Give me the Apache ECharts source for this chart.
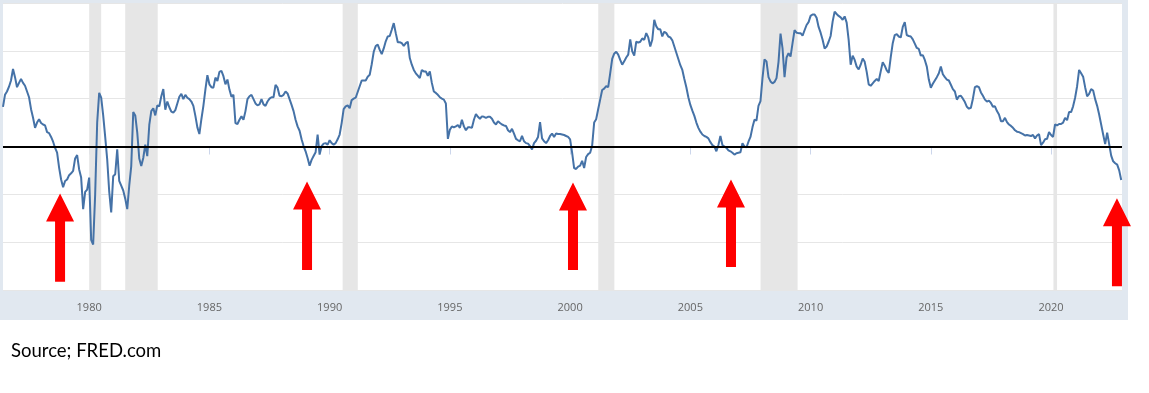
<!DOCTYPE html>
<html><head><meta charset="utf-8">
<script src="https://cdn.jsdelivr.net/npm/echarts@6/dist/echarts.min.js"></script>
<style>html,body{margin:0;padding:0;background:#fff;}#c{width:1149px;height:393px;}</style>
</head><body><div id="c"></div>
<script>
// Monthly spread (10Y - 2Y, %), starting June 1976
const startYear = 1976, startMonth = 6;
const spread1970s = [
  0.83, 1.08, 1.15, 1.25, 1.38, 1.62, 1.45,
  1.24, 1.33, 1.41, 1.33, 1.27, 1.15, 1.03, 0.78, 0.6, 0.39, 0.5, 0.57,
  0.49, 0.46, 0.44, 0.3, 0.28, 0.2, 0.1, -0.03, -0.13, -0.44, -0.69, -0.85,
  -0.72, -0.69, -0.6, -0.56, -0.51, -0.25, -0.18, -0.48, -0.65, -1.31, -0.95, -0.9
];
const spread1980s = [
  -0.65, -1.95, -2.05, -1.0, 0.5, 1.12, 1.02, 0.65, 0.2, -0.27, -0.94, -1.38,
  -0.62, -0.58, -0.06, -0.72, -0.82, -0.92, -1.09, -1.31, -0.82, -0.41, 0.72, 0.65,
  0.29, -0.25, -0.41, -0.24, 0.04, -0.2, 0.45, 0.74, 0.8, 0.65, 0.86, 0.84,
  1.05, 1.2, 0.77, 0.94, 0.82, 0.73, 0.71, 0.76, 0.9, 1.04, 1.1, 0.99,
  1.08, 1.02, 0.99, 0.94, 0.85, 0.64, 0.4, 0.26, 0.57, 0.85, 1.19, 1.49,
  1.3, 1.24, 1.23, 1.44, 1.37, 1.56, 1.58, 1.47, 1.3, 1.4, 1.19, 1.04,
  1.08, 0.49, 0.47, 0.56, 0.63, 0.56, 0.74, 0.99, 1.05, 1.08, 0.99, 0.9,
  0.86, 0.88, 0.99, 0.88, 0.85, 0.94, 1.0, 1.03, 1.03, 1.29, 1.23, 1.06,
  1.05, 1.08, 1.15, 1.11, 0.99, 0.87, 0.74, 0.56, 0.42, 0.33, 0.15, 0.01,
  -0.1, -0.24, -0.4, -0.28, -0.2, -0.12, 0.25, -0.17, 0.01, 0.06, 0.07, 0.04
];
const spread1990s = [
  0.13, 0.07, 0.04, 0.07, 0.15, 0.25, 0.49, 0.78, 0.84, 0.86, 0.8, 0.97,
  1.0, 1.02, 1.14, 1.26, 1.38, 1.38, 1.38, 1.46, 1.5, 1.72, 1.98, 2.1,
  2.13, 2.02, 1.93, 2.05, 2.2, 2.3, 2.31, 2.44, 2.58, 2.37, 2.18, 2.18,
  2.16, 2.1, 2.16, 2.19, 1.85, 1.71, 1.6, 1.53, 1.48, 1.43, 1.6, 1.57,
  1.57, 1.48, 1.57, 1.33, 1.15, 1.12, 1.08, 1.03, 1.0, 0.98, 0.9, 0.16,
  0.35, 0.42, 0.4, 0.42, 0.45, 0.39, 0.56, 0.42, 0.34, 0.4, 0.4, 0.39,
  0.56, 0.68, 0.62, 0.58, 0.63, 0.62, 0.6, 0.62, 0.62, 0.58, 0.5, 0.46,
  0.53, 0.49, 0.46, 0.44, 0.43, 0.34, 0.3, 0.37, 0.27, 0.16, 0.13, 0.11,
  0.22, 0.11, 0.07, 0.06, 0.01, -0.06, 0.07, 0.12, 0.2, 0.51, 0.17, 0.11,
  0.07, 0.13, 0.22, 0.27, 0.2, 0.27, 0.26, 0.26, 0.25, 0.24, 0.22, 0.2
];
const spread2000s = [
  0.15, -0.13, -0.45, -0.47, -0.42, -0.4, -0.3, -0.45, -0.22, -0.16, -0.13, 0.02,
  0.5, 0.57, 0.78, 0.98, 1.18, 1.21, 1.26, 1.24, 1.53, 1.83, 1.94, 1.98,
  1.92, 1.81, 1.71, 1.78, 1.86, 1.92, 2.24, 1.99, 1.9, 2.19, 2.17, 2.19,
  2.26, 2.23, 2.37, 2.28, 2.09, 2.23, 2.65, 2.51, 2.45, 2.45, 2.3, 2.4,
  2.37, 2.3, 2.28, 2.22, 2.09, 1.96, 1.83, 1.7, 1.6, 1.41, 1.24, 1.03,
  0.87, 0.75, 0.64, 0.5, 0.39, 0.31, 0.25, 0.22, 0.2, 0.17, 0.09, 0.03,
  0.0, -0.1, 0.03, 0.22, 0.03, 0.0, -0.03, -0.08, -0.1, -0.13, -0.17, -0.14,
  -0.13, -0.12, 0.07, 0.0, -0.02, 0.1, 0.2, 0.4, 0.56, 0.54, 0.85, 0.95,
  1.43, 1.82, 1.78, 1.45, 1.36, 1.32, 1.35, 1.43, 1.77, 2.36, 2.05, 1.45,
  1.86, 1.95, 1.88, 2.16, 2.43, 2.38, 2.37, 2.37, 2.32, 2.43, 2.54, 2.6
];
const spread2010s = [
  2.73, 2.76, 2.76, 2.69, 2.5, 2.38, 2.23, 2.05, 2.09, 2.19, 2.31, 2.61,
  2.82, 2.77, 2.73, 2.7, 2.65, 2.72, 2.59, 2.23, 1.71, 1.9, 1.81, 1.67,
  1.61, 1.71, 1.84, 1.77, 1.56, 1.3, 1.27, 1.32, 1.37, 1.41, 1.37, 1.57,
  1.76, 1.69, 1.59, 1.54, 1.87, 2.16, 2.33, 2.35, 2.3, 2.28, 2.5, 2.6,
  2.33, 2.31, 2.3, 2.24, 2.15, 2.06, 2.04, 1.9, 1.91, 1.81, 1.67, 1.4,
  1.23, 1.31, 1.38, 1.45, 1.53, 1.67, 1.51, 1.45, 1.4, 1.38, 1.29, 1.2,
  1.15, 0.98, 1.05, 1.06, 1.0, 0.93, 0.83, 0.79, 0.81, 1.0, 1.24, 1.26,
  1.24, 1.13, 1.06, 0.98, 0.94, 0.96, 0.91, 0.83, 0.84, 0.74, 0.67, 0.53,
  0.53, 0.6, 0.51, 0.46, 0.43, 0.39, 0.34, 0.31, 0.3, 0.28, 0.26, 0.23,
  0.24, 0.23, 0.22, 0.24, 0.17, 0.23, 0.26, 0.03, 0.08, 0.15, 0.16, 0.3
];
const spread2020s = [
  0.24, 0.2, 0.46, 0.44, 0.47, 0.47, 0.5, 0.6, 0.55, 0.72, 0.72, 0.84,
  1.02, 1.26, 1.6, 1.53, 1.46, 1.24, 1.05, 1.1, 1.2, 1.17, 0.99, 0.85,
  0.67, 0.46, 0.25, 0.05, 0.29, 0.05, -0.19, -0.31, -0.35, -0.38, -0.5, -0.7
];
// Recession periods (decimal years)
const recessions = [[1980.0, 1980.5], [1981.5, 1982.85], [1990.54, 1991.17], [2001.17, 2001.84], [2007.92, 2009.46], [2020.1, 2020.25]];
// Arrows: [year, tip value, base value]
const arrows = [[1978.79, -0.98, -2.83], [1989.06, -0.73, -2.58], [2000.12, -0.75, -2.58], [2006.69, -0.69, -2.52], [2022.74, -1.08, -2.92]];
const tickYears = [1980, 1985, 1990, 1995, 2000, 2005, 2010, 2015, 2020];
const sourceText = 'Source; FRED.com';

const allValues = [].concat(spread1970s, spread1980s, spread1990s, spread2000s, spread2010s, spread2020s);
const lineData = allValues.map((v, i) => [startYear + (startMonth - 1) / 12 + i / 12, v]);

const chart = echarts.init(document.getElementById('c'), null, {renderer: 'canvas'});
chart.setOption({
  animation: false,
  backgroundColor: '#ffffff',
  graphic: [{type: 'rect', z: -100, silent: true, shape: {x: 0, y: 0, width: 1128, height: 320}, style: {fill: '#e1e8f0'}}],
  title: {text: sourceText, left: 11, top: 342, padding: 0, textStyle: {fontFamily: 'Lato', fontSize: 18.5, fontWeight: 'normal', color: '#000'}},
  grid: {left: 3, right: 27, top: 3, bottom: 103, show: true, backgroundColor: '#ffffff', borderWidth: 0, containLabel: false, outerBoundsMode: 'none'},
  xAxis: {
    type: 'value', min: 1976.417, max: 2022.95,
    axisLine: {show: true, lineStyle: {color: '#ccd6eb', width: 1}},
    axisTick: {show: true, customValues: tickYears, length: 8, lineStyle: {color: '#ccd6eb'}},
    axisLabel: {customValues: tickYears, formatter: v => String(Math.round(v)), color: '#666666', fontSize: 11, margin: 12, fontFamily: 'Open Sans'},
    splitLine: {show: false}
  },
  yAxis: {
    type: 'value', min: -3, max: 3, interval: 1,
    axisLabel: {show: false}, axisLine: {show: false}, axisTick: {show: false},
    splitLine: {show: true, lineStyle: {color: '#e6e6e6', width: 1}}
  },
  series: [
    {
      type: 'line', data: lineData, showSymbol: false, symbol: 'none', z: 3,
      lineStyle: {color: '#4572a7', width: 2},
      markArea: {silent: true, itemStyle: {color: '#e6e6e6'}, data: recessions.map(r => [{xAxis: r[0]}, {xAxis: r[1]}])},
      markLine: {silent: true, symbol: 'none', label: {show: false}, lineStyle: {color: '#000000', width: 2, type: 'solid'}, data: [{yAxis: 0}]}
    },
    {
      type: 'custom', z: 5, clip: false, silent: true,
      data: arrows,
      encode: {x: 0, y: [1, 2]},
      renderItem: function (params, api) {
        const tip = api.coord([api.value(0), api.value(1)]);
        const base = api.coord([api.value(0), api.value(2)]);
        const hw = 14, hh = 28, sw = 5, x = tip[0];
        return {
          type: 'polygon',
          shape: {points: [[x, tip[1]], [x + hw, tip[1] + hh], [x + sw, tip[1] + hh], [x + sw, base[1]], [x - sw, base[1]], [x - sw, tip[1] + hh], [x - hw, tip[1] + hh]]},
          style: {fill: '#ff0000'}
        };
      }
    }
  ]
});
</script></body></html>
